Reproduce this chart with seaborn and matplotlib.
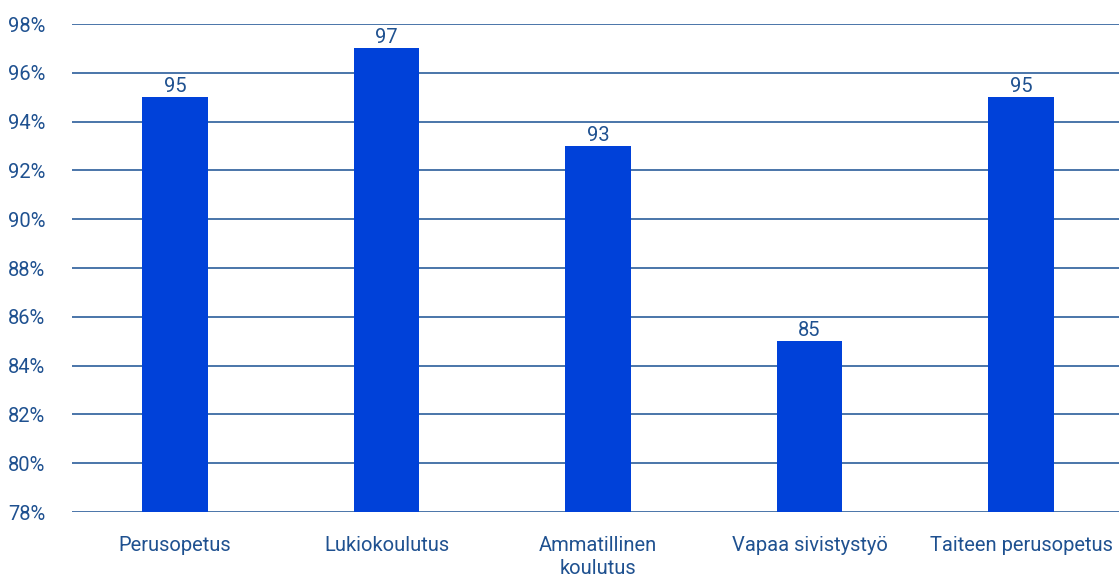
import matplotlib
matplotlib.use("Agg")
import matplotlib.pyplot as plt
import seaborn as sns
import pandas as pd
from matplotlib.ticker import FuncFormatter

categories = ["Perusopetus", "Lukiokoulutus", "Ammatillinen\nkoulutus", "Vapaa sivistystyö", "Taiteen perusopetus"]
values = [95, 97, 93, 85, 95]
yticks = [78, 80, 82, 84, 86, 88, 90, 92, 94, 96, 98]

sns.set_theme(style="white")
plt.rcParams['font.family'] = ['Roboto', 'DejaVu Sans']

text_color = "#1F5190"
grid_color = "#2B5D9B"
bar_color = "#0041D9"

df = pd.DataFrame({"cat": categories, "val": values})

fig = plt.figure(figsize=(11.19, 5.76), dpi=100)
ax = fig.add_axes([72/1119, 64/576, 1 - 72/1119, 488/576])
ax.set_axisbelow(True)
for y in yticks:
    ax.axhline(y, color=grid_color, linewidth=1.2, zorder=0)

sns.barplot(data=df, x="cat", y="val", color=bar_color, width=0.31, ax=ax,
            saturation=1, zorder=2, edgecolor="none")

for i, v in enumerate(values):
    ax.text(i, v + 0.06, f"{v}", ha="center", va="bottom", fontsize=14.5, color=text_color)

ax.set_ylim(78, 98)
ax.set_xlim(-0.487, 4.463)
ax.set_yticks(yticks)
ax.yaxis.set_major_formatter(FuncFormatter(lambda v, p: f"{int(v)}%"))
ax.set_xlabel("")
ax.set_ylabel("")
for s in ax.spines.values():
    s.set_visible(False)
ax.tick_params(axis="y", length=0, pad=19, labelsize=14.5, labelcolor=text_color)
ax.tick_params(axis="x", length=0, pad=17, labelsize=14.5, labelcolor=text_color)
for lab in ax.get_yticklabels():
    lab.set_horizontalalignment("right")
for lab in ax.get_xticklabels():
    lab.set_linespacing(1.3)

fig.savefig("out.png", dpi=100)
